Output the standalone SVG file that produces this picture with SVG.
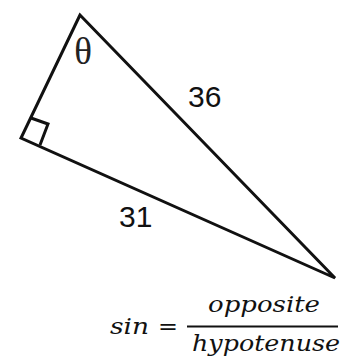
<svg xmlns="http://www.w3.org/2000/svg" width="344" height="358" viewBox="0 0 344 358">
<style>
.edge{fill:none;stroke:#111;stroke-width:3;stroke-linejoin:miter;stroke-linecap:butt}
.num{font-family:"Liberation Sans",Arial,sans-serif;font-size:30px;fill:#111}
.th{font-family:"Liberation Serif","Times New Roman",serif;font-size:37px;fill:#222}
.math{font-family:"DejaVu Serif","Liberation Serif",serif;font-style:italic;font-size:22px;fill:#111}
</style>
<rect width="344" height="358" fill="#fff"/>
<g id="triangle">
<polygon class="edge" points="80,15 21,138 335,278"/>
<polyline class="edge" points="31,118 48,124 40,145"/>
</g>
<g id="labels">
<text class="th" x="83" y="64" text-anchor="middle">θ</text>
<text class="num" x="188" y="107">36</text>
<text class="num" x="119" y="227">31</text>
</g>
<g id="formula">
<text class="math" x="110" y="334" textLength="39" lengthAdjust="spacingAndGlyphs">sin</text>
<text class="math" x="158" y="334" font-style="normal" textLength="20" lengthAdjust="spacingAndGlyphs">=</text>
<line x1="187" y1="326.5" x2="338" y2="326.5" stroke="#111" stroke-width="2"/>
<text class="math" x="208" y="312" textLength="112" lengthAdjust="spacingAndGlyphs">opposite</text>
<text class="math" x="192" y="351" textLength="148" lengthAdjust="spacingAndGlyphs">hypotenuse</text>
</g>
</svg>
